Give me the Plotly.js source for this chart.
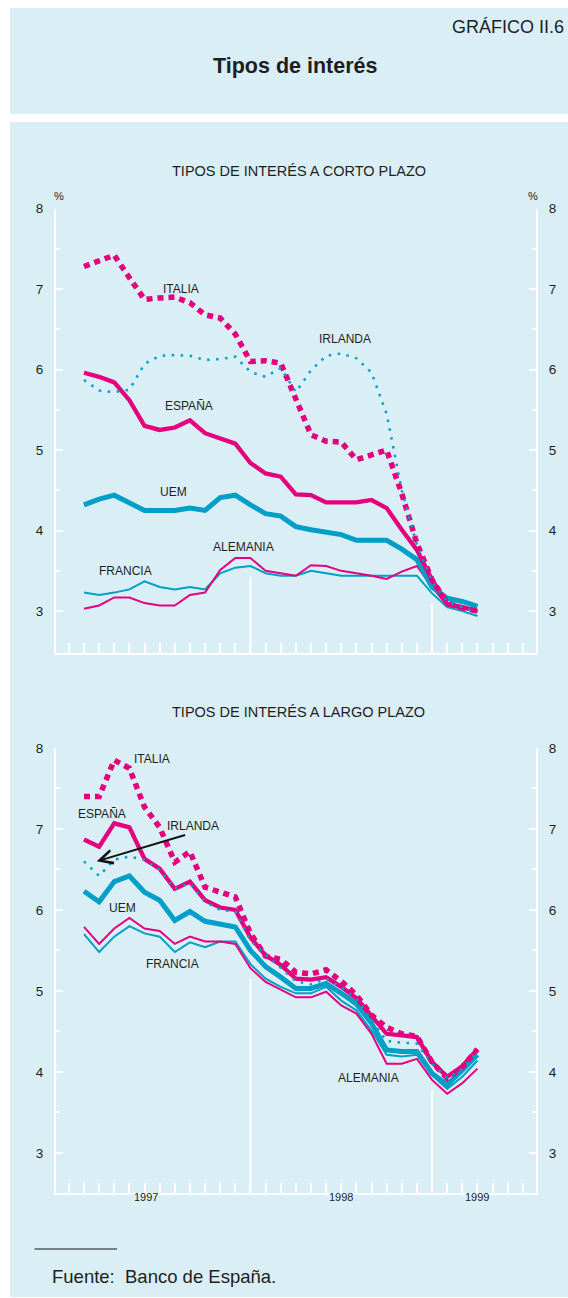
<!DOCTYPE html>
<html><head><meta charset="utf-8">
<script src="https://cdn.plot.ly/plotly-3.0.1.min.js"></script>
<style>html,body{margin:0;padding:0;background:#fff}</style>
</head><body><div id="chart" style="width:568px;height:1298px"></div>
<script>
// ---- data (monthly, ene-97 .. mar-99) ----
const months = ['ene-97','feb-97','mar-97','abr-97','may-97','jun-97','jul-97','ago-97','sep-97','oct-97','nov-97','dic-97',
  'ene-98','feb-98','mar-98','abr-98','may-98','jun-98','jul-98','ago-98','sep-98','oct-98','nov-98','dic-98',
  'ene-99','feb-99','mar-99'];
const yearLabels = ['1997','1998','1999'];
const seriesNames = ['FRANCIA','ALEMANIA','UEM','ESPAÑA','ITALIA','IRLANDA'];

// Tipos a corto plazo
const cpFrancia  = [3.23,3.20,3.23,3.27,3.37,3.30,3.27,3.30,3.27,3.47,3.54,3.56,3.47,3.44,3.44,3.50,3.47,3.44,3.44,3.44,3.44,3.44,3.44,3.22,3.05,3.00,2.94];
const cpAlemania = [3.03,3.07,3.17,3.17,3.10,3.07,3.07,3.20,3.23,3.51,3.66,3.66,3.50,3.47,3.44,3.57,3.56,3.50,3.47,3.44,3.40,3.49,3.56,3.30,3.07,3.03,3.00];
const cpUEM      = [4.32,4.39,4.44,4.34,4.25,4.25,4.25,4.28,4.25,4.41,4.44,4.32,4.21,4.18,4.05,4.01,3.98,3.95,3.88,3.88,3.88,3.77,3.64,3.30,3.16,3.12,3.06];
const cpEspana   = [5.96,5.91,5.84,5.62,5.30,5.25,5.28,5.37,5.21,5.14,5.08,4.84,4.71,4.67,4.45,4.44,4.35,4.35,4.35,4.38,4.28,4.01,3.76,3.39,3.09,3.05,3.00];
const cpItalia   = [7.28,7.35,7.42,7.14,6.87,6.89,6.90,6.83,6.68,6.64,6.44,6.10,6.11,6.08,5.65,5.19,5.11,5.10,4.88,4.94,5.00,4.46,3.84,3.39,3.10,3.04,3.00];
const cpIrlanda  = [5.87,5.74,5.72,5.75,6.07,6.17,6.18,6.17,6.12,6.13,6.16,5.97,5.91,6.02,5.72,5.99,6.17,6.20,6.14,5.96,5.45,4.50,3.82,3.37,3.12,3.05,2.98];

// Tipos a largo plazo
const lpFrancia  = [5.70,5.48,5.67,5.80,5.71,5.67,5.48,5.60,5.54,5.61,5.61,5.33,5.15,5.05,4.97,4.97,5.05,4.88,4.76,4.51,4.21,4.19,4.21,3.96,3.79,3.94,4.14];
const lpAlemania = [5.79,5.58,5.77,5.90,5.77,5.74,5.58,5.67,5.61,5.61,5.58,5.28,5.11,5.01,4.92,4.92,4.99,4.82,4.72,4.47,4.10,4.10,4.16,3.90,3.73,3.86,4.04];
const lpUEM      = [6.23,6.10,6.35,6.42,6.22,6.12,5.87,5.98,5.86,5.82,5.79,5.50,5.30,5.17,5.03,5.03,5.09,4.97,4.84,4.60,4.27,4.25,4.25,3.98,3.84,4.02,4.21];
const lpEspana   = [6.87,6.78,7.07,7.02,6.63,6.51,6.26,6.35,6.12,6.03,6.00,5.66,5.44,5.32,5.15,5.14,5.17,5.05,4.91,4.68,4.47,4.45,4.43,4.12,3.94,4.07,4.28];
const lpItalia   = [7.40,7.40,7.85,7.75,7.27,7.02,6.59,6.72,6.28,6.22,6.16,5.71,5.43,5.39,5.23,5.21,5.26,5.12,4.95,4.70,4.55,4.47,4.44,4.12,3.92,4.06,4.28];
const lpIrlanda  = [6.60,6.42,6.62,6.66,6.62,6.50,6.26,6.33,6.10,6.00,5.98,5.62,5.45,5.28,5.12,5.08,5.15,5.05,4.90,4.64,4.38,4.36,4.35,4.10,3.92,4.04,4.25];

// ---- geometry helpers ----
const W = 568, H = 1298;
const px = x => x / W;
const py = y => 1 - y / H;
const PINK = '#e5007e', BLUE = '#009fc7', PANEL = '#d9eff5', TXT = '#1e1e1e';
const FONT = 'Liberation Sans, Arial, Helvetica, sans-serif';
const xs = months.map((m, i) => i + 1);          // month index, Jan-97 = 1
const monthTicks = Array.from({length: 31}, (_, i) => i);
const RANGE_X = [-0.85, 30.87];
const RANGE_TOP = [2.48, 8], RANGE_BOT = [2.5, 8];

const styles = [
  {color: BLUE, width: 2, dash: 'solid'},          // Francia
  {color: PINK, width: 2, dash: 'solid'},          // Alemania
  {color: BLUE, width: 5, dash: 'solid'},          // UEM
  {color: PINK, width: 4.3, dash: 'solid'},        // España
  {color: PINK, width: 5.5, dash: '6px,5px'},      // Italia
  {color: BLUE, width: 2.5, dash: '2.5px,6.5px'}   // Irlanda
];

function traces(sets, xa, ya) {
  return sets.map((ys, k) => ({
    x: xs, y: ys, xaxis: xa, yaxis: ya, type: 'scatter', mode: 'lines',
    name: seriesNames[k], hoverinfo: 'skip', showlegend: false,
    line: Object.assign({}, styles[k])
  }));
}
// invisible copy so the right-hand (mirror) axis is drawn
function mirror(ys, xa, ya) {
  return {x: xs, y: ys, xaxis: xa, yaxis: ya, type: 'scatter', mode: 'lines', hoverinfo: 'skip',
    showlegend: false, opacity: 0, line: {width: 0}};
}
const data = [
  mirror(cpUEM, 'x', 'y3'), mirror(lpUEM, 'x2', 'y4'),
  ...traces([cpFrancia, cpAlemania, cpUEM, cpEspana, cpItalia, cpIrlanda], 'x', 'y'),
  ...traces([lpFrancia, lpAlemania, lpUEM, lpEspana, lpItalia, lpIrlanda], 'x2', 'y2')
];

function xAxis(anchor) {
  return {domain: [px(56), px(536)], range: RANGE_X, anchor: anchor,
    tickmode: 'array', tickvals: monthTicks, ticks: 'inside', ticklen: 10, tickwidth: 2, tickcolor: '#fff',
    showticklabels: false, showline: true, linecolor: '#fff', linewidth: 2,
    showgrid: false, zeroline: false, fixedrange: true};
}
function yAxis(domain, range, anchor, side, overlay) {
  const a = {domain: domain, range: range, anchor: anchor, side: side,
    tickmode: 'array', tickvals: [3,4,5,6,7,8], ticks: 'inside', ticklen: 7, tickwidth: 2, tickcolor: '#fff',
    showline: true, linecolor: '#fff', linewidth: 2, showgrid: false, zeroline: false, fixedrange: true,
    tickfont: {family: FONT, size: 13.5, color: TXT}, ticklabelstandoff: 8,
    minor: {tickmode: 'array', tickvals: [3.5,4.5,5.5,6.5,7.5], ticks: 'inside', ticklen: 4, tickwidth: 2, tickcolor: '#fff', showgrid: false}};
  if (overlay) a.overlaying = overlay;
  return a;
}
const domTop = [py(653), py(208.5)], domBot = [py(1193.3), py(748)];

// year separator lines reach up to just below the lowest curve
function sepLine(sets, idx, xa, ya, range) {
  const lo = Math.min(...sets.map(s => s[idx - 1]));
  return {type: 'line', xref: xa, yref: ya, x0: idx, x1: idx, y0: range[0], y1: lo - 0.13,
    line: {color: '#fff', width: 2}, layer: 'below'};
}
const cpAll = [cpFrancia, cpAlemania, cpUEM, cpEspana, cpItalia, cpIrlanda];
const lpAll = [lpFrancia, lpAlemania, lpUEM, lpEspana, lpItalia, lpIrlanda];

const shapes = [
  {type: 'rect', xref: 'paper', yref: 'paper', x0: px(10), x1: 1, y0: py(114), y1: py(8), fillcolor: PANEL, line: {width: 0}, layer: 'below'},
  {type: 'rect', xref: 'paper', yref: 'paper', x0: px(10), x1: 1, y0: py(1297), y1: py(122), fillcolor: PANEL, line: {width: 0}, layer: 'below'},
  sepLine(cpAll, 12, 'x', 'y', RANGE_TOP), sepLine(cpAll, 24, 'x', 'y', RANGE_TOP),
  sepLine(lpAll, 12, 'x2', 'y2', RANGE_BOT), sepLine(lpAll, 24, 'x2', 'y2', RANGE_BOT),
  {type: 'line', xref: 'paper', yref: 'paper', x0: px(34.5), x1: px(117), y0: py(1249), y1: py(1249), line: {color: '#111', width: 1}}
];

function ptxt(text, x, y, size, opts) {
  return Object.assign({text: text, xref: 'paper', yref: 'paper', x: px(x), y: py(y), showarrow: false,
    xanchor: 'center', yanchor: 'middle', font: {family: FONT, size: size, color: TXT}}, opts || {});
}
function dtxt(text, x, y, xa, ya) {
  return {text: text, xref: xa, yref: ya, x: x, y: y, showarrow: false, xanchor: 'center', yanchor: 'middle',
    font: {family: FONT, size: 12, color: TXT}};
}
const annotations = [
  ptxt('GRÁFICO II.6', 566, 27, 18, {xanchor: 'right'}),
  ptxt('<b>Tipos de interés</b>', 295, 66, 21.5),
  ptxt('TIPOS DE INTERÉS A CORTO PLAZO', 299, 171, 14.5),
  ptxt('TIPOS DE INTERÉS A LARGO PLAZO', 298, 712, 14.5),
  ptxt('%', 58.5, 195.5, 11), ptxt('%', 533, 195.5, 11),
  // short-term labels
  dtxt('ITALIA', 7.41, 7.0, 'x', 'y'),
  dtxt('IRLANDA', 18.25, 6.38, 'x', 'y'),
  dtxt('ESPAÑA', 7.96, 5.55, 'x', 'y'),
  dtxt('UEM', 6.9, 4.48, 'x', 'y'),
  dtxt('ALEMANIA', 11.57, 3.80, 'x', 'y'),
  dtxt('FRANCIA', 3.71, 3.50, 'x', 'y'),
  // long-term labels
  dtxt('ITALIA', 5.47, 7.86, 'x2', 'y2'),
  dtxt('ESPAÑA', 2.17, 7.18, 'x2', 'y2'),
  dtxt('IRLANDA', 8.22, 7.04, 'x2', 'y2'),
  dtxt('UEM', 3.56, 6.02, 'x2', 'y2'),
  dtxt('FRANCIA', 6.86, 5.33, 'x2', 'y2'),
  dtxt('ALEMANIA', 19.79, 3.92, 'x2', 'y2'),
  {text: '', xref: 'x2', yref: 'y2', x: 1.84, y: 6.60, axref: 'x2', ayref: 'y2', ax: 7.78, ay: 6.93,
   showarrow: true, arrowhead: 5, arrowsize: 1.3, arrowwidth: 2, arrowcolor: '#111', standoff: 0, startstandoff: 0},
  // year labels
  {text: yearLabels[0], xref: 'x2', yref: 'paper', x: 5.12, y: py(1205), showarrow: false, font: {family: FONT, size: 11, color: TXT}},
  {text: yearLabels[1], xref: 'x2', yref: 'paper', x: 18, y: py(1205), showarrow: false, font: {family: FONT, size: 11, color: TXT}},
  {text: yearLabels[2], xref: 'x2', yref: 'paper', x: 27, y: py(1205), showarrow: false, font: {family: FONT, size: 11, color: TXT}},
  ptxt('Fuente:  Banco de España.', 50, 1276, 18.5, {xanchor: 'left'})
];

const layout = {
  width: W, height: H, margin: {l: 0, r: 0, t: 0, b: 0},
  paper_bgcolor: '#fff', plot_bgcolor: 'rgba(0,0,0,0)', showlegend: false,
  font: {family: FONT, color: TXT},
  xaxis: xAxis('y'), xaxis2: xAxis('y2'),
  yaxis: yAxis(domTop, RANGE_TOP, 'x', 'left'),
  yaxis2: yAxis(domBot, RANGE_BOT, 'x2', 'left'),
  yaxis3: yAxis(domTop, RANGE_TOP, 'x', 'right', 'y'),
  yaxis4: yAxis(domBot, RANGE_BOT, 'x2', 'right', 'y2'),
  shapes: shapes, annotations: annotations
};
Plotly.newPlot('chart', data, layout, {displayModeBar: false, staticPlot: true});
</script></body></html>
